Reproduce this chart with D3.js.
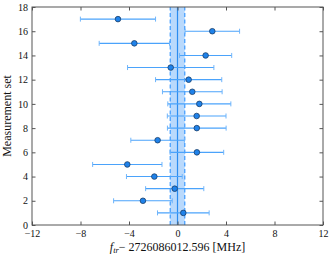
<html>
<head>
<script src="https://d3js.org/d3.v7.min.js"></script>
<style>
  body { margin: 0; background: #fff; }
  svg text { font-family: "Liberation Serif", "Times New Roman", "DejaVu Serif", serif !important; }
</style>
</head>
<body>
<script>
// measurement set index, offset from reference frequency, 1-sigma uncertainty (MHz)
var sets    = [1, 2, 3, 4, 5, 6, 7, 8, 9, 10, 11, 12, 13, 14, 15, 16, 17];
var offsets = [0.48, -2.85, -0.23, -1.91, -4.14, 1.6, -1.64, 1.59, 1.58, 1.8, 1.22, 0.92, -0.56, 2.32, -3.56, 2.87, -4.91];
var errors  = [2.13, 2.42, 2.4, 2.3, 2.86, 2.21, 2.21, 2.42, 2.42, 2.6, 2.46, 2.73, 3.56, 2.15, 2.9, 2.25, 3.1];
var meanVal = 0, meanErr = 0.6;
var xTicks = [-12, -8, -4, 0, 4, 8, 12];
var yTicks = [0, 2, 4, 6, 8, 10, 12, 14, 16, 18];

var W = 335, H = 257;
var m = {left: 32, right: 12, top: 7, bottom: 32};

var svg = d3.select("body").append("svg").attr("width", W).attr("height", H);

var x = d3.scaleLinear().domain([-12, 12]).range([m.left, W - m.right]);
var y = d3.scaleLinear().domain([0, 18]).range([H - m.bottom, m.top]);

// weighted mean band
svg.append("rect")
    .attr("x", x(meanVal - meanErr)).attr("y", y(18))
    .attr("width", x(meanVal + meanErr) - x(meanVal - meanErr))
    .attr("height", y(0) - y(18))
    .attr("fill", "#a8d0fb").attr("opacity", 0.8);
[meanVal - meanErr, meanVal + meanErr].forEach(function (v) {
    svg.append("line")
        .attr("x1", x(v)).attr("x2", x(v)).attr("y1", y(0)).attr("y2", y(18))
        .attr("stroke", "#3d9bff").attr("stroke-width", 1.2).attr("stroke-dasharray", "4,2.5");
});
svg.append("line")
    .attr("x1", x(meanVal)).attr("x2", x(meanVal)).attr("y1", y(0)).attr("y2", y(18))
    .attr("stroke", "#2b8cf0").attr("stroke-width", 1.2);

// error bars
var data = sets.map(function (s, i) { return {s: s, v: offsets[i], e: errors[i]}; });
var g = svg.append("g");
g.selectAll(".eb").data(data).enter().append("line")
    .attr("x1", function (d) { return x(d.v - d.e); })
    .attr("x2", function (d) { return x(d.v + d.e); })
    .attr("y1", function (d) { return y(d.s); })
    .attr("y2", function (d) { return y(d.s); })
    .attr("stroke", "#4ba3fb").attr("stroke-width", 1.1);
[-1, 1].forEach(function (sg) {
    g.selectAll(".cap" + sg).data(data).enter().append("line")
        .attr("x1", function (d) { return x(d.v + sg * d.e); })
        .attr("x2", function (d) { return x(d.v + sg * d.e); })
        .attr("y1", function (d) { return y(d.s) - 2.5; })
        .attr("y2", function (d) { return y(d.s) + 2.5; })
        .attr("stroke", "#6fb5fb").attr("stroke-width", 1);
});
g.selectAll("circle").data(data).enter().append("circle")
    .attr("cx", function (d) { return x(d.v); })
    .attr("cy", function (d) { return y(d.s); })
    .attr("r", 2.8)
    .attr("fill", "#1f82ea").attr("stroke", "#1a3f6a").attr("stroke-width", 0.8);

// frame
svg.append("rect")
    .attr("x", m.left).attr("y", m.top)
    .attr("width", W - m.left - m.right).attr("height", H - m.top - m.bottom)
    .attr("fill", "none").attr("stroke", "#555").attr("stroke-width", 1);

// ticks (inward, all sides)
var tk = 3.5;
var axB = svg.append("g").attr("transform", "translate(0," + y(0) + ")")
    .call(d3.axisBottom(x).tickValues(xTicks).tickSizeInner(-tk).tickSizeOuter(0).tickPadding(4.5)
        .tickFormat(function (d) { return d < 0 ? "\u2212" + Math.abs(d) : d; }));
var axT = svg.append("g").attr("transform", "translate(0," + y(18) + ")")
    .call(d3.axisTop(x).tickValues(xTicks).tickSizeInner(-tk).tickSizeOuter(0).tickFormat(""));
var axL = svg.append("g").attr("transform", "translate(" + x(-12) + ",0)")
    .call(d3.axisLeft(y).tickValues(yTicks).tickSizeInner(-tk).tickSizeOuter(0).tickPadding(4));
var axR = svg.append("g").attr("transform", "translate(" + x(12) + ",0)")
    .call(d3.axisRight(y).tickValues(yTicks).tickSizeInner(-tk).tickSizeOuter(0).tickFormat(""));
[axB, axT, axL, axR].forEach(function (a) {
    a.select(".domain").remove();
    a.attr("font-family", null);
    a.selectAll("line").attr("stroke", "#555");
    a.selectAll("text").attr("font-size", 10).attr("fill", "#111");
});

// axis labels
svg.append("text")
    .attr("transform", "translate(11," + y(9) + ") rotate(-90)")
    .attr("text-anchor", "middle").attr("font-size", 12).attr("fill", "#111")
    .text("Measurement set");
var xl = svg.append("text")
    .attr("x", x(0)).attr("y", 251)
    .attr("text-anchor", "middle").attr("font-size", 12).attr("fill", "#111");
xl.append("tspan").attr("font-style", "italic").text("f");
xl.append("tspan").attr("font-style", "italic").attr("font-size", 8.5).attr("dy", 2).text("tr");
xl.append("tspan").attr("dy", -2).text("\u2212 2726086012.596 [MHz]");
</script>
</body>
</html>
